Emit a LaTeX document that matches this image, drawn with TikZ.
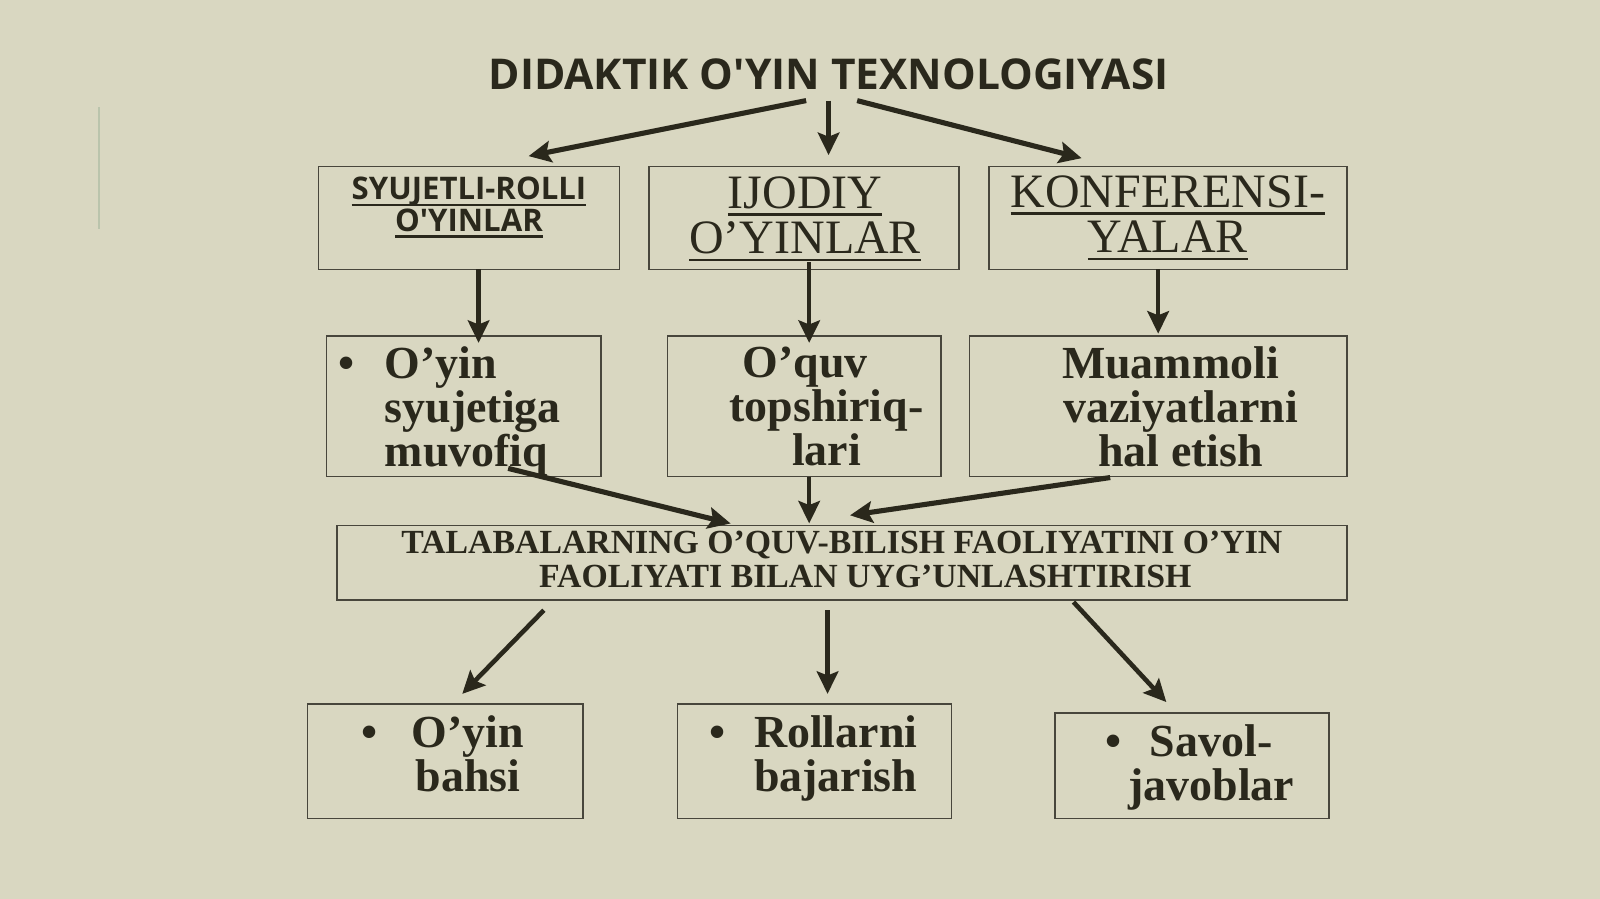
\documentclass[tikz,border=0pt]{standalone}
\usepackage{fontspec}
\setmainfont{Liberation Serif}
\newfontfamily\opensans{Open Sans}
\usetikzlibrary{arrows.meta}
\definecolor{slidebg}{RGB}{217,215,193}
\definecolor{ink}{RGB}{42,40,28}
\definecolor{frame}{RGB}{72,70,60}
\definecolor{faint}{RGB}{186,196,172}
\tikzstyle{box} = [draw=frame, line width=1.6pt, inner sep=0pt, outer sep=0pt]
\tikzstyle{caption} = [text=ink, inner sep=0pt, align=center]
\tikzstyle{itemtext} = [caption, font=\bfseries\fontsize{45}{43}\selectfont]
\tikzstyle{arr} = [draw=ink, line width=5pt,
  -{Stealth[length=22pt,width=21pt,inset=4pt]}]
\tikzstyle{varr} = [arr, line width=4.5pt]
\newcommand{\ulin}[2][7.5pt]{\setbox0=\hbox{#2}\rlap{\rule[-#1]{\wd0}{2.4pt}}\box0}

\begin{document}
\begin{tikzpicture}[x=1pt, y=-1pt]
  \fill[slidebg] (0,0) rectangle (1568,881);
  \useasboundingbox (0,0) rectangle (1568,881);
  \draw[faint, line width=2pt] (97,105) -- (97,224);

  \node[caption, anchor=base, font=\opensans\bfseries\fontsize{41.6}{44}\selectfont]
    (title) at (812,88) {DIDAKTIK O\textquotesingle YIN TEXNOLOGIYASI};

  % first row
  \node[box, minimum width=295pt, minimum height=101pt] (syubox) at (459.5,213.5) {};
  \node[box, minimum width=304pt, minimum height=101pt] (ijobox) at (788,213.5) {};
  \node[box, minimum width=351pt, minimum height=101pt] (konbox) at (1144.5,213.5) {};
  \node[caption, font=\opensans\bfseries\fontsize{30.5}{31}\selectfont] (syutxt)
    at (459.6,203.4) {\ulin[6pt]{SYUJETLI-ROLLI}\\\ulin[6pt]{O\textquotesingle YINLAR}};
  \node[caption, font=\fontsize{47}{44.5}\selectfont] (ijotxt)
    at (789,214.5) {\ulin{IJODIY}\\\ulin{O’YINLAR}};
  \node[caption, font=\fontsize{47}{44.5}\selectfont] (kontxt)
    at (1144.5,213.5) {\ulin{KONFERENSI-}\\\ulin{YALAR}};

  % second row
  \node[box, minimum width=269pt, minimum height=138pt] (syjbox) at (454.5,398) {};
  \node[box, minimum width=268pt, minimum height=138pt] (topbox) at (788,398) {};
  \node[box, minimum width=370pt, minimum height=138pt] (muabox) at (1135,398) {};
  \node[itemtext, align=left, anchor=west] (syjtxt) at (377,403.5)
    {\llap{\textbullet\hspace{30pt}}O’yin\\syujetiga\\muvofiq};
  \node[itemtext] (toptxt) at (789,398.5)
    {O’quv\\\hspace*{42pt}topshiriq-\\\hspace*{42pt}lari};
  \node[itemtext] (muatxt) at (1147,398.8)
    {Muammoli\\\hspace*{20pt}vaziyatlarni\\\hspace*{20pt}hal etish};

  % middle
  \node[box, minimum width=990pt, minimum height=73pt] (talbox) at (825,551.5) {};
  \node[caption, font=\bfseries\fontsize{33.1}{33}\selectfont] (taltxt) at (825,548.3)
    {TALABALARNING O’QUV-BILISH FAOLIYATINI O’YIN\\\hspace*{46pt}FAOLIYATI BILAN UYG’UNLASHTIRISH};

  % last row
  \node[box, minimum width=270pt, minimum height=112pt] (bahbox) at (436.4,746) {};
  \node[box, minimum width=268.6pt, minimum height=112pt] (rolbox) at (798.2,746) {};
  \node[box, minimum width=268.7pt, minimum height=103pt] (savbox) at (1168,750.5) {};
  \node[itemtext] (bahtxt) at (458.5,738.5) {\llap{\textbullet\hspace{33pt}}O’yin\\bahsi};
  \node[itemtext] (roltxt) at (819,743.2) {\llap{\textbullet\hspace{28pt}}Rollarni\\bajarish};
  \node[itemtext] (savtxt) at (1187,752) {\llap{\textbullet\hspace{28pt}}Savol-\\javoblar};

  \path[arr] ([shift={(-22,10)}]title.south) -- ([shift={(58.5,-10)}]syubox.north);
  \path[varr] ([shift={(0,10)}]title.south) -- ([shift={(24,-11)}]ijobox.north);
  \path[arr] ([shift={(28,10)}]title.south) -- ([shift={(-84.5,-8)}]konbox.north);

  \path[varr] ([shift={(9.5,0)}]syubox.south) -- ([shift={(14.5,7)}]syjbox.north);
  \path[varr] ([shift={(5,-7)}]ijobox.south) -- ([shift={(5,7)}]topbox.north);
  \path[varr] ([shift={(-9.5,0)}]konbox.south) -- ([shift={(0,-2)}]muabox.north);

  \path[arr] ([shift={(43.5,-8)}]syjbox.south) -- ([shift={(-109,-2)}]talbox.north);
  \path[varr] ([shift={(5,0)}]topbox.south) -- ([shift={(-32,-2)}]talbox.north);
  \path[arr] ([shift={(-47,1)}]muabox.south) -- ([shift={(8,-10)}]talbox.north);

  \path[varr] ([shift={(-292,10)}]talbox.south) -- ([shift={(16.6,-10)}]bahbox.north);
  \path[varr] ([shift={(-14,10)}]talbox.south) -- ([shift={(12.8,-10)}]rolbox.north);
  \path[varr] ([shift={(227,2)}]talbox.south) -- ([shift={(-25,-11)}]savbox.north);
\end{tikzpicture}
\end{document}
